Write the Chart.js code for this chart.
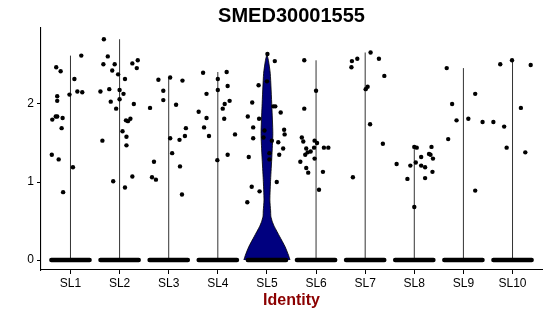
<!DOCTYPE html>
<html>
<head>
<meta charset="utf-8">
<script src="https://cdn.jsdelivr.net/npm/chart.js@4.4.0/dist/chart.umd.min.js"></script>
<style>
  body { margin: 0; background: #fff; }
  #wrap { width: 550px; height: 316px; }
</style>
</head>
<body>
<div id="wrap"><canvas id="violinChart" width="550" height="316"></canvas></div>
<script>
// Labels
const chartTitle = 'SMED30001555';
const axisTitle = 'Identity';
const categories = ['SL1', 'SL2', 'SL3', 'SL4', 'SL5', 'SL6', 'SL7', 'SL8', 'SL9', 'SL10'];
const yTicks = [0, 1, 2];

// Non-zero cells per cluster: [jitter offset, expression]
const sl1 = [[-0.29,2.47],[-0.20,2.42],[-0.27,2.10],[-0.27,2.04],[0.22,2.62],[0.08,2.32],[-0.02,2.12],[0.14,2.16],[0.24,2.15],[-0.30,1.84],[-0.27,1.84],[-0.37,1.80],[-0.16,1.82],[-0.18,1.69],[-0.38,1.35],[-0.24,1.29],[0.05,1.19],[-0.15,0.87]];
const sl2 = [[-0.32,2.83],[-0.24,2.61],[-0.33,2.51],[-0.10,2.51],[0.26,2.52],[0.37,2.56],[0.35,2.46],[-0.15,2.43],[-0.03,2.38],[0.11,2.32],[-0.39,2.16],[-0.21,2.19],[0.00,2.18],[0.08,2.13],[-0.18,2.03],[0.00,2.06],[0.29,2.00],[-0.07,1.94],[0.13,1.79],[0.17,1.78],[0.22,1.81],[0.06,1.65],[0.14,1.58],[-0.35,1.53],[0.14,1.47],[0.26,1.07],[-0.13,1.01],[0.11,0.93]];
const sl3 = [[-0.21,2.31],[0.03,2.34],[0.28,2.30],[-0.11,2.17],[-0.11,2.05],[-0.38,1.95],[0.15,1.99],[0.35,1.69],[0.33,1.59],[0.03,1.56],[0.22,1.54],[0.07,1.37],[-0.30,1.26],[0.23,1.20],[-0.34,1.06],[-0.26,1.03],[0.27,0.84]];
const sl4 = [[-0.30,2.40],[0.18,2.41],[0.00,2.32],[0.20,2.23],[0.00,2.18],[-0.23,2.13],[0.24,2.04],[0.14,2.00],[0.10,1.94],[-0.39,1.90],[-0.23,1.82],[0.13,1.81],[-0.28,1.70],[0.35,1.61],[-0.18,1.59],[0.20,1.35],[-0.01,1.28]];
const sl5 = [[0.01,2.64],[0.16,2.55],[0.00,2.29],[-0.17,2.24],[-0.30,2.02],[0.13,1.97],[0.17,1.97],[0.28,1.89],[-0.39,1.84],[-0.16,1.81],[-0.28,1.70],[0.35,1.67],[-0.05,1.66],[0.36,1.61],[-0.28,1.56],[-0.07,1.57],[0.10,1.53],[0.23,1.51],[0.33,1.43],[0.05,1.37],[0.25,1.35],[-0.37,1.32],[0.05,1.29],[0.20,1.00],[-0.31,0.94],[-0.15,0.88],[-0.40,0.74]];
const sl6 = [[-0.24,2.56],[0.00,2.17],[-0.24,1.94],[-0.29,1.57],[-0.26,1.52],[-0.03,1.53],[0.02,1.50],[0.16,1.44],[0.25,1.44],[-0.04,1.44],[-0.20,1.43],[-0.11,1.39],[-0.17,1.38],[-0.22,1.35],[-0.03,1.30],[-0.32,1.26],[-0.20,1.18],[-0.16,1.12],[0.14,1.13],[0.06,0.90]];
const sl7 = [[0.11,2.66],[-0.16,2.58],[0.28,2.58],[-0.27,2.55],[-0.28,2.47],[0.39,2.36],[0.05,2.22],[0.01,2.19],[0.10,1.74],[0.36,1.49],[-0.25,1.06]];
const sl8 = [[0.00,1.45],[0.35,1.45],[0.05,1.44],[0.30,1.36],[0.33,1.35],[0.14,1.32],[0.38,1.30],[0.03,1.25],[-0.36,1.23],[-0.08,1.21],[0.14,1.21],[0.22,1.19],[0.37,1.13],[-0.14,1.04],[0.22,1.05],[0.00,0.68]];
const sl9 = [[-0.34,2.46],[0.24,2.13],[-0.23,2.00],[0.10,1.81],[-0.14,1.79],[0.39,1.77],[-0.31,1.55],[0.24,0.89]];
const sl10 = [[-0.01,2.56],[-0.25,2.51],[0.37,2.50],[0.17,1.95],[-0.39,1.77],[-0.17,1.71],[-0.12,1.44],[0.26,1.38]];
const groupPoints = [sl1, sl2, sl3, sl4, sl5, sl6, sl7, sl8, sl9, sl10];

// SL5 violin outline: expression level and density half width
const sl5ViolinLevels = [0, 0.06, 0.17, 0.30, 0.43, 0.49, 0.56, 0.63, 0.77, 1.03, 1.32, 1.62, 1.97, 2.39, 2.56, 2.64];
const sl5ViolinHalfWidth = [0.47, 0.44, 0.37, 0.26, 0.15, 0.11, 0.08, 0.075, 0.06, 0.075, 0.10, 0.12, 0.10, 0.068, 0.03, 0];

const violinIndex = categories.indexOf('SL5');
const zeroSpread = 0.39;
const fontFamily = '"Liberation Sans", Arial, Helvetica, sans-serif';

Chart.defaults.font.family = fontFamily;
Chart.defaults.color = '#000';

// Draw plot title centred over the panel
const titlePlugin = {
    id: 'plotTitle',
    afterDraw(chart) {
        const { ctx, chartArea } = chart;
        ctx.save();
        ctx.font = 'bold 20px ' + fontFamily;
        ctx.fillStyle = '#000';
        ctx.textAlign = 'center';
        ctx.textBaseline = 'alphabetic';
        ctx.fillText(chartTitle, (chartArea.left + chartArea.right) / 2, 22);
        ctx.restore();
    }
};

function buildDatasets() {
    const datasets = [];

    // jittered expressing cells
    const pts = [];
    groupPoints.forEach((group, i) => {
        group.forEach(([dx, y]) => pts.push({ x: i + 1 + dx, y: y }));
    });
    datasets.push({
        type: 'scatter',
        data: pts,
        pointRadius: 2.2,
        pointBackgroundColor: '#000',
        pointBorderWidth: 0,
        order: 0
    });

    // cells with zero expression (dense band)
    categories.forEach((cat, i) => {
        datasets.push({
            type: 'line',
            data: [{ x: i + 1 - zeroSpread, y: 0 }, { x: i + 1 + zeroSpread, y: 0 }],
            borderColor: '#000',
            borderWidth: 4.4,
            borderCapStyle: 'round',
            pointRadius: 0,
            fill: false,
            order: 1
        });
    });

    // violins
    categories.forEach((cat, i) => {
        if (i === violinIndex) {
            const right = sl5ViolinLevels.map((y, k) => ({ x: i + 1 + sl5ViolinHalfWidth[k], y: y }));
            const left = sl5ViolinLevels.map((y, k) => ({ x: i + 1 - sl5ViolinHalfWidth[k], y: y })).reverse();
            datasets.push({
                type: 'line',
                data: right.concat(left),
                borderColor: '#000',
                borderWidth: 0.8,
                backgroundColor: '#00007F',
                fill: 'shape',
                tension: 0.2,
                pointRadius: 0,
                order: 2
            });
        } else {
            const top = Math.max(...groupPoints[i].map(p => p[1]));
            datasets.push({
                type: 'line',
                data: [{ x: i + 1, y: 0 }, { x: i + 1, y: top }],
                borderColor: '#333',
                borderWidth: 1,
                pointRadius: 0,
                fill: false,
                order: 2
            });
        }
    });

    return datasets;
}

let violinChart;

function initChart() {
    const ctx = document.getElementById('violinChart');
    violinChart = new Chart(ctx, {
        type: 'scatter',
        data: { datasets: buildDatasets() },
        plugins: [titlePlugin],
        options: {
            responsive: false,
            animation: false,
            layout: { padding: { top: 28, right: 8, left: 0, bottom: 0 } },
            plugins: {
                legend: { display: false },
                tooltip: { enabled: false },
                title: { display: false }
            },
            scales: {
                x: {
                    type: 'linear',
                    min: 0.4,
                    max: 10.6,
                    afterBuildTicks: scale => {
                        scale.ticks = categories.map((c, i) => ({ value: i + 1 }));
                    },
                    afterFit: scale => { scale.height = 46; },
                    ticks: {
                        autoSkip: false,
                        maxRotation: 0,
                        padding: 2,
                        color: '#000',
                        font: { size: 12 },
                        callback: value => categories[value - 1]
                    },
                    grid: { display: true, drawOnChartArea: false, drawTicks: true, tickLength: 4, color: '#000', lineWidth: 1 },
                    border: { display: true, color: '#000', width: 1.1 },
                    title: {
                        display: true,
                        text: axisTitle,
                        color: '#8B0000',
                        font: { size: 16, weight: 'bold' },
                        padding: { top: 0, bottom: 6 }
                    }
                },
                y: {
                    type: 'linear',
                    min: -0.128,
                    max: 2.974,
                    afterBuildTicks: scale => {
                        scale.ticks = yTicks.map(v => ({ value: v }));
                    },
                    afterFit: scale => { scale.width = 41; },
                    ticks: {
                        padding: 3,
                        color: '#000',
                        font: { size: 12 }
                    },
                    grid: { display: true, drawOnChartArea: false, drawTicks: true, tickLength: 4, color: '#000', lineWidth: 1 },
                    border: { display: true, color: '#000', width: 1.1 }
                }
            }
        }
    });
}

document.addEventListener('DOMContentLoaded', initChart);
</script>
</body>
</html>
